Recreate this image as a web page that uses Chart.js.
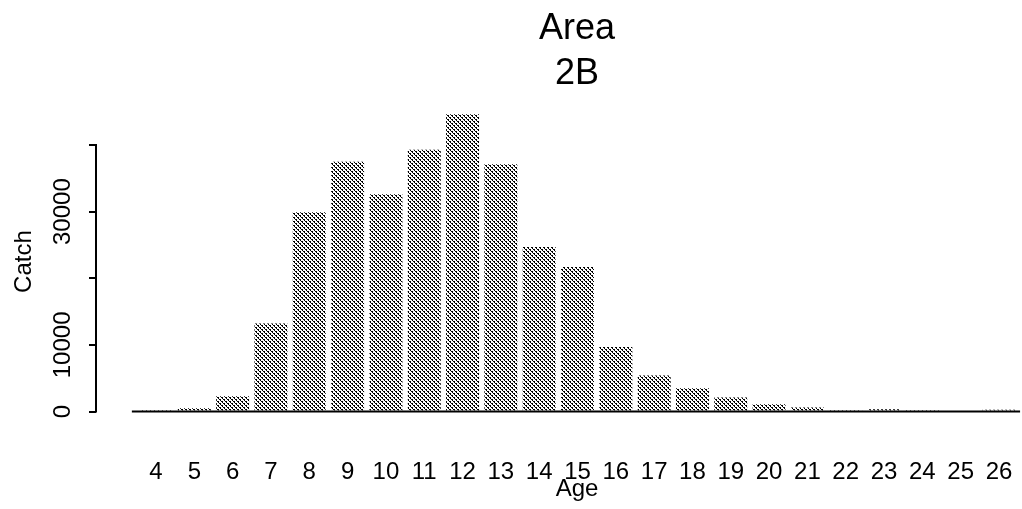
<!DOCTYPE html>
<html>
<head>
<meta charset="utf-8">
<script src="https://cdn.jsdelivr.net/npm/chart.js@4"></script>
<style>
  html, body { margin: 0; padding: 0; background: #fff; overflow: hidden; }
  /* plot region runs a little past the right edge of the page */
  #wrap { width: 1058px; height: 509px; position: relative; }
</style>
</head>
<body>
<div id="wrap"><canvas id="c"></canvas></div>
<script>
// Catch at age, area 2B
const ages = [4, 5, 6, 7, 8, 9, 10, 11, 12, 13, 14, 15, 16, 17, 18, 19, 20, 21, 22, 23, 24, 25, 26];
const catches = [80, 500, 2300, 13200, 29900, 37500, 32600, 39300, 44600, 37100, 24700, 21700,
                 9700, 5400, 3500, 2100, 1100, 600, 80, 350, 60, 150, 250];
const yTicks = [0, 10000, 20000, 30000, 40000];
const yTickLabels = ['0', '10000', '', '30000', ''];
const titleLines = ['Area', '2B'];

const FONT = 'Liberation Sans, Arial, Helvetica, sans-serif';
const canvas = document.getElementById('c');
const ctx = canvas.getContext('2d');

// Dithered grey fill: diagonal runs of black pixels, roughly half coverage
function makeShade() {
  const t = document.createElement('canvas');
  t.width = 4; t.height = 4;
  const g = t.getContext('2d');
  g.fillStyle = '#fff';
  g.fillRect(0, 0, 4, 4);
  g.fillStyle = '#000';
  for (let y = 0; y < 4; y++) {
    for (let x = 0; x < 4; x++) {
      const d = (x - y + 8) % 4;
      if (d === 0 || (d === 1 && (x + y) % 4 !== 1)) g.fillRect(x, y, 1, 1);
    }
  }
  return ctx.createPattern(t, 'repeat');
}

function noScalePadding(s) {
  s.paddingLeft = 0; s.paddingRight = 0; s.paddingTop = 0; s.paddingBottom = 0;
}

// Axis line spanning only the tick range, plus the bar baseline
const axisLines = {
  id: 'axisLines',
  afterDatasetsDraw(chart) {
    const { ctx, scales: { x, y } } = chart;
    ctx.save();
    ctx.strokeStyle = '#000';
    ctx.lineWidth = 2;
    ctx.beginPath();
    const ax = y.right;
    ctx.moveTo(ax, y.getPixelForValue(yTicks[0]) + 1);
    ctx.lineTo(ax, y.getPixelForValue(yTicks[yTicks.length - 1]) - 1);
    const by = y.getPixelForValue(0);
    ctx.moveTo(x.getPixelForValue(ages[0] - 0.63), by);
    ctx.lineTo(x.getPixelForValue(ages[ages.length - 1] + 0.55), by);
    ctx.stroke();
    ctx.restore();
  }
};

new Chart(canvas, {
  type: 'bar',
  data: {
    datasets: [{
      data: ages.map((a, i) => ({ x: a, y: catches[i] })),
      backgroundColor: makeShade(),
      borderWidth: 0,
      categoryPercentage: 1,
      barPercentage: 0.86
    }]
  },
  plugins: [axisLines],
  options: {
    responsive: true,
    maintainAspectRatio: false,
    animation: false,
    layout: { padding: 0 },
    plugins: {
      legend: { display: false },
      tooltip: { enabled: false },
      title: {
        display: true,
        text: titleLines,
        fullSize: false,
        color: '#000',
        font: { family: FONT, size: 36, weight: 'normal', lineHeight: 1.25 },
        padding: { top: 6.5, bottom: 15.2 }
      }
    },
    scales: {
      x: {
        type: 'linear',
        offset: false,
        min: 2.434,
        max: 27.54,
        afterBuildTicks: s => { s.ticks = ages.map(v => ({ value: v })); },
        afterFit: s => { s.height = 97.5; noScalePadding(s); },
        grid: { display: false, offset: false },
        border: { display: false },
        ticks: {
          autoSkip: false,
          maxRotation: 0,
          minRotation: 0,
          padding: 38,
          color: '#000',
          font: { family: FONT, size: 24 },
          callback: v => String(v)
        },
        title: {
          display: true,
          text: 'Age',
          color: '#000',
          font: { family: FONT, size: 24 },
          padding: { top: 0, bottom: 5 }
        }
      },
      y: {
        min: 0,
        max: 45000,
        afterBuildTicks: s => { s.ticks = yTicks.map(v => ({ value: v })); },
        afterFit: s => { s.width = 96; noScalePadding(s); },
        grid: {
          display: true,
          drawOnChartArea: false,
          drawTicks: true,
          tickLength: 7,
          color: '#000',
          lineWidth: 2
        },
        border: { display: false },
        ticks: {
          autoSkip: false,
          minRotation: 90,
          maxRotation: 90,
          crossAlign: 'center',
          padding: -8,
          color: '#000',
          font: { family: FONT, size: 24 },
          callback: (v, i) => yTickLabels[i] ?? ''
        },
        title: {
          display: true,
          text: 'Catch',
          color: '#000',
          font: { family: FONT, size: 24 },
          padding: { top: 10, bottom: 0 }
        }
      }
    }
  }
});
</script>
</body>
</html>
